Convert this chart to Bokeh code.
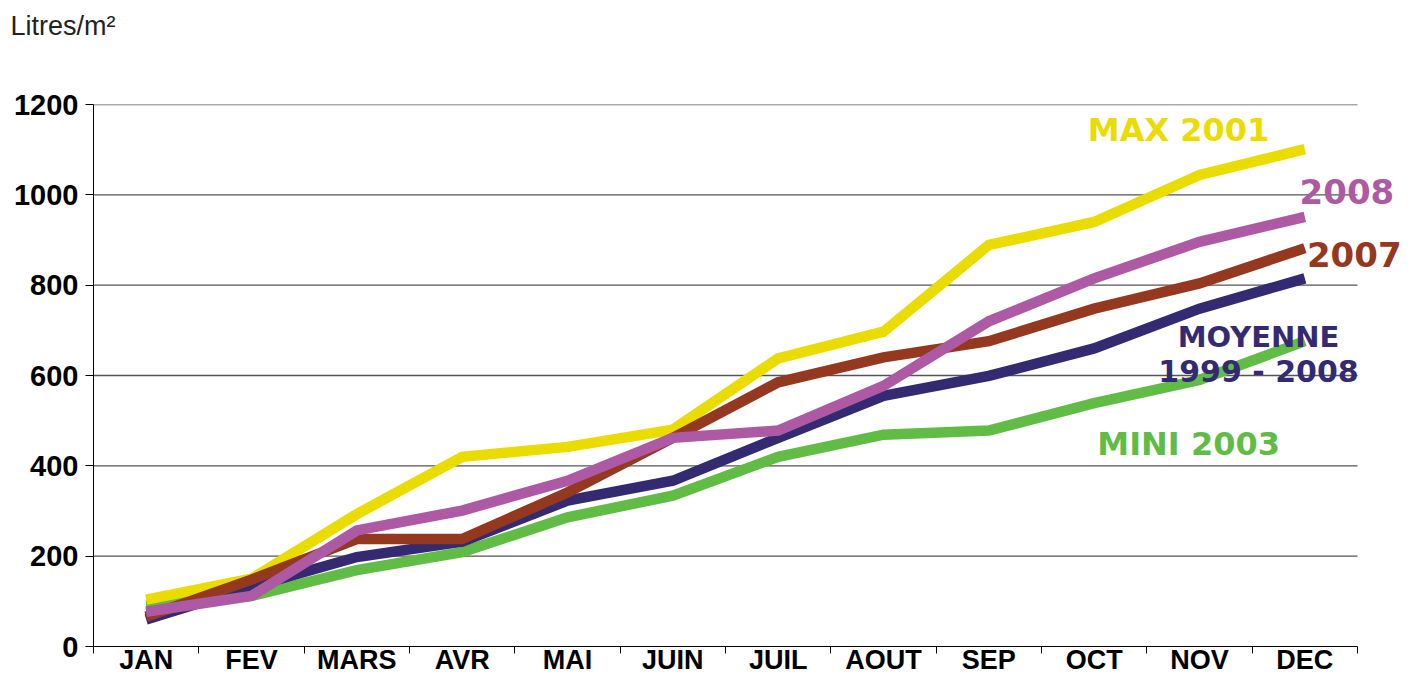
from bokeh.plotting import figure
from bokeh.models import Range1d, FixedTicker, Label, Title
from bokeh.embed import file_html
from bokeh.resources import INLINE

months = ["JAN", "FEV", "MARS", "AVR", "MAI", "JUIN", "JUIL", "AOUT", "SEP", "OCT", "NOV", "DEC"]
max_2001 = [104, 150, 293, 420, 442, 480, 638, 697, 889, 940, 1044, 1101]
y2008 = [77, 112, 257, 301, 367, 462, 478, 577, 720, 815, 896, 951]
y2007 = [66, 148, 238, 238, 341, 462, 585, 640, 676, 748, 804, 882]
moyenne = [60, 132, 198, 232, 323, 367, 462, 555, 599, 660, 748, 815]
mini_2003 = [90, 112, 169, 209, 286, 334, 420, 469, 478, 539, 590, 676]
y_ticks = [0, 200, 400, 600, 800, 1000, 1200]

YELLOW = "#EBDC00"
PINK = "#AD59A3"
BROWN = "#953820"
NAVY = "#332A72"
GREEN = "#60BC45"

n = len(months)
xc = [i + 0.5 for i in range(n)]
bounds = list(range(n + 1))

W, H = 1406, 677
LEFT = 93
FRAME_W = W - LEFT
CAT_PX = 1264 / n
x_end = FRAME_W / CAT_PX

p = figure(width=W, height=H, output_backend="svg", toolbar_location=None, title=None,
           x_range=Range1d(0, x_end), y_range=Range1d(0, 1200),
           min_border_left=LEFT, min_border_right=0, min_border_top=104, min_border_bottom=0)
p.outline_line_color = None
p.background_fill_color = "white"
p.border_fill_color = "white"

# spacer title next to the frame, then the unit label further out
p.add_layout(Title(text="\u00a0", text_font="Liberation Sans", text_font_size="27px",
                   standoff=32), "above")
p.add_layout(Title(text="Litres/m²", text_font="Liberation Sans", text_font_style="normal",
                   text_font_size="27px", text_color="#222222", align="left",
                   offset=-83, standoff=0), "above")

# axes
p.xaxis.bounds = (0, n)
p.xaxis.ticker = FixedTicker(ticks=xc, minor_ticks=bounds)
p.xaxis.major_label_overrides = {x: m for x, m in zip(xc, months)}
p.xaxis.major_tick_out = 0
p.xaxis.major_tick_in = 0
p.xaxis.minor_tick_out = 7
p.xaxis.minor_tick_in = 0
p.xaxis.minor_tick_line_color = "black"
p.xaxis.axis_line_color = "black"
p.xaxis.major_label_standoff = -9
p.xaxis.major_label_text_font = "Liberation Sans"
p.xaxis.major_label_text_font_style = "bold"
p.xaxis.major_label_text_font_size = "27px"
p.xaxis.major_label_text_color = "black"

p.yaxis.ticker = FixedTicker(ticks=y_ticks)
p.yaxis.major_tick_out = 8
p.yaxis.major_tick_in = 0
p.yaxis.minor_tick_line_color = None
p.yaxis.axis_line_color = "black"
p.yaxis.major_tick_line_color = "black"
p.yaxis.major_label_standoff = 7
p.yaxis.major_label_text_font = "Liberation Sans"
p.yaxis.major_label_text_font_style = "bold"
p.yaxis.major_label_text_font_size = "29px"
p.yaxis.major_label_text_color = "black"

p.xgrid.grid_line_color = None
p.ygrid.grid_line_color = None

# horizontal grid lines limited to the category span
gy = y_ticks[1:]
p.segment(x0=[0] * len(gy), x1=[n] * len(gy), y0=gy, y1=gy,
          line_color="#555555", line_width=1.3)

series = [
    (mini_2003, GREEN),
    (moyenne, NAVY),
    (max_2001, YELLOW),
    (y2007, BROWN),
    (y2008, PINK),
]
for vals, col in series:
    p.line(xc, vals, line_color=col, line_width=10.5, line_join="miter", line_cap="butt")

FONT = "DejaVu Sans"
labels = [
    ("MAX 2001", 9.44, 1143, YELLOW, "32px", "left"),
    ("2008", 11.45, 1007, PINK, "34px", "left"),
    ("2007", 11.52, 868, BROWN, "34px", "left"),
    ("MOYENNE", 11.06, 686, NAVY, "29px", "center"),
    ("1999 - 2008", 11.06, 609, NAVY, "30px", "center"),
    ("MINI 2003", 9.53, 449, GREEN, "32px", "left"),
]
for txt, x, y, col, size, align in labels:
    p.add_layout(Label(x=x, y=y, text=txt, text_color=col, text_font=FONT,
                       text_font_style="bold", text_font_size=size,
                       text_align=align, text_baseline="alphabetic"))

open("out.html", "w").write(file_html(p, INLINE))
